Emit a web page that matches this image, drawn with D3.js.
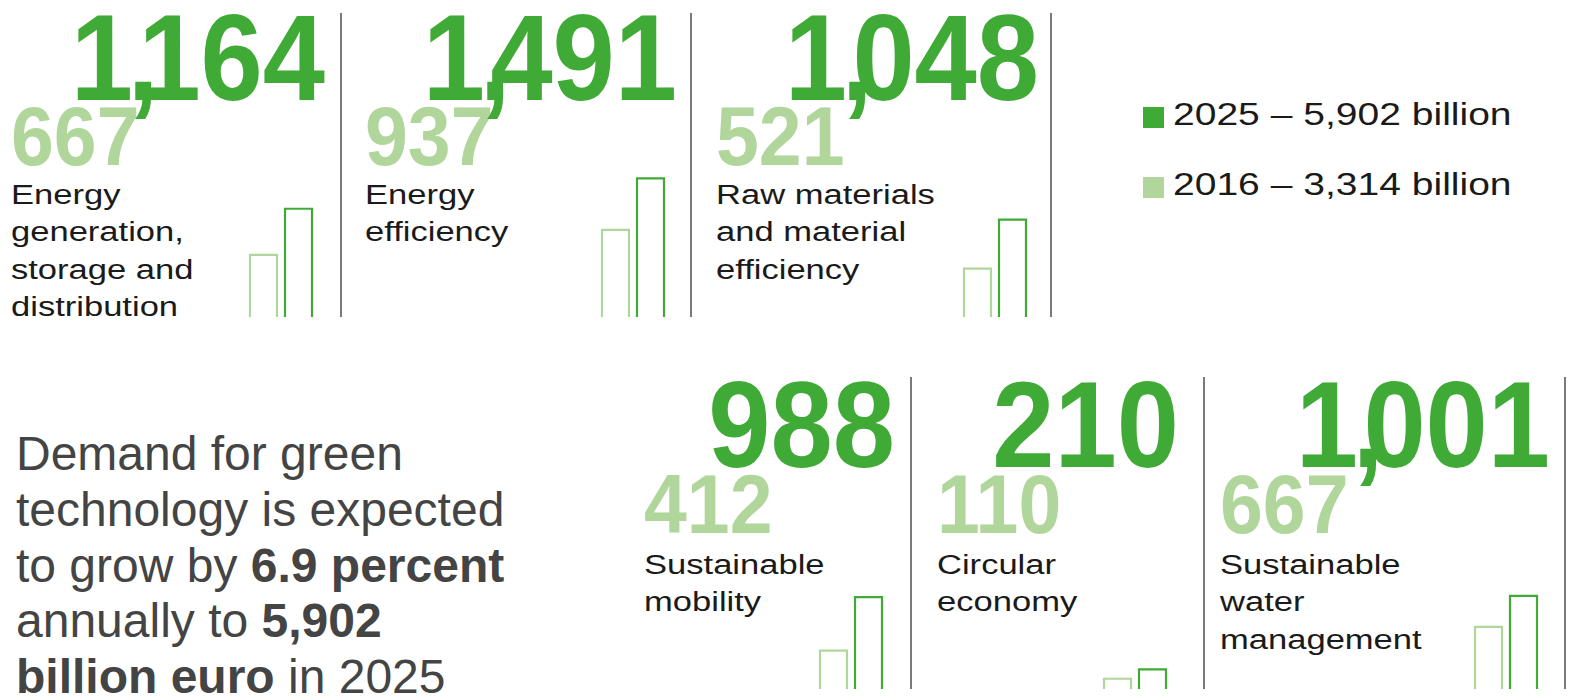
<!DOCTYPE html>
<html>
<head>
<meta charset="utf-8">
<script src="https://cdn.jsdelivr.net/npm/d3@7"></script>
<style>
    body { margin: 0; background: #fff; }
    svg { display: block; }
</style>
</head>
<body>
<div id="chart"></div>
<script>
// values in billion euro
const categories = [
    ['Energy', 'generation,', 'storage and', 'distribution'],
    ['Energy', 'efficiency'],
    ['Raw materials', 'and material', 'efficiency'],
    ['Sustainable', 'mobility'],
    ['Circular', 'economy'],
    ['Sustainable', 'water', 'management']
];
const values2016 = [667, 937, 521, 412, 110, 667];
const values2025 = [1164, 1491, 1048, 988, 210, 1001];
const legendLabels = ['2025 – 5,902 billion', '2016 – 3,314 billion'];
const introLines = [
    [{ t: 'Demand for green' }],
    [{ t: 'technology is expected' }],
    [{ t: 'to grow by ' }, { t: '6.9 percent', b: true }],
    [{ t: 'annually to ' }, { t: '5,902', b: true }],
    [{ t: 'billion euro', b: true }, { t: ' in 2025' }]
];

// panel boxes (row, label x, right edge of bars, divider x)
const panels = [
    { row: 0, lx: 13, bx: 313, dx: 341 },
    { row: 0, lx: 367, bx: 665, dx: 691 },
    { row: 0, lx: 718, bx: 1027, dx: 1051 },
    { row: 1, lx: 646, bx: 883, dx: 911 },
    { row: 1, lx: 939, bx: 1167, dx: 1204 },
    { row: 1, lx: 1222, bx: 1538, dx: 1565 }
];
const rows = [
    { top: 13, big: 100, small: 165, label: 204, base: 317 },
    { top: 377, big: 467, small: 533, label: 574, base: 689 }
];

const width = 1574, height = 700;
const dark = '#40aa37', light = '#b1d69c';
const NUM_FONT = "'Liberation Sans', Arial, Helvetica, sans-serif";
const TXT_FONT = "'Liberation Sans', Arial, Helvetica, sans-serif";
const stretch = 1.28;

const svg = d3.select('#chart').append('svg')
    .attr('width', width)
    .attr('height', height);

// find how wide a digit is in the number font, so the numbers keep the reference proportions
const probe = svg.append('text')
    .attr('font-family', NUM_FONT).attr('font-weight', 700).attr('font-size', 100)
    .text('0000000000');
const digitEm = probe.node().getComputedTextLength() / 1000;
probe.remove();
const numSX = 0.51 / digitEm;

const y = d3.scaleLinear().domain([0, 1000]).range([0, 93]);
const fmt = d3.format(',');

function stretchedText(g, x, yy, sx) {
    return g.append('text').attr('transform', `translate(${x},${yy}) scale(${sx},1)`);
}

function numberText(g, x, yy, value, size, color, anchor) {
    const t = stretchedText(g, x, yy, numSX)
        .attr('font-family', NUM_FONT)
        .attr('font-weight', 700)
        .attr('font-size', size)
        .attr('fill', color)
        .attr('text-anchor', anchor);
    const parts = fmt(value).split(',');
    parts.forEach((p, i) => {
        if (i > 0) t.append('tspan').attr('dx', '-0.05em').text(',');
        t.append('tspan').attr('dx', i > 0 ? '-0.18em' : null).text(p);
    });
    return t;
}

const barPath = (x0, w, base, h) => `M${x0},${base}V${base - h}H${x0 + w}V${base}`;

panels.forEach((p, i) => {
    const r = rows[p.row];
    const g = svg.append('g');

    // divider
    g.append('line')
        .attr('x1', p.dx).attr('x2', p.dx)
        .attr('y1', r.top).attr('y2', r.base)
        .attr('stroke', '#7a7a7a')
        .attr('stroke-width', 2);

    // bars (outlined, open at bottom)
    g.append('path')
        .attr('d', barPath(p.bx - 63, 27, r.base, y(values2016[i])))
        .attr('fill', 'none').attr('stroke', light).attr('stroke-width', 2.2);
    g.append('path')
        .attr('d', barPath(p.bx - 28, 27, r.base, y(values2025[i])))
        .attr('fill', 'none').attr('stroke', dark).attr('stroke-width', 2.2);

    // small 2016 number then the big 2025 number on top
    numberText(g, p.lx - 2, r.small, values2016[i], 84, light, 'start');
    numberText(g, p.bx + 12, r.big, values2025[i], 122, dark, 'end');

    // label
    const lab = stretchedText(g, p.lx - 2, r.label, stretch)
        .attr('font-family', TXT_FONT)
        .attr('font-size', 27)
        .attr('fill', '#1a1a1a');
    categories[i].forEach((line, k) => {
        lab.append('tspan').attr('x', 0).attr('y', k * 37.5).text(line);
    });
});

// legend
const legend = svg.append('g').attr('transform', 'translate(1143,107)');
legendLabels.forEach((label, i) => {
    legend.append('rect')
        .attr('x', 0).attr('y', i * 70)
        .attr('width', 21).attr('height', 21)
        .attr('fill', i === 0 ? dark : light);
    stretchedText(legend, 30, i * 70 + 18, 1.22)
        .attr('font-family', TXT_FONT)
        .attr('font-size', 32)
        .attr('fill', '#1a1a1a')
        .text(label);
});

// intro text
const intro = svg.append('text')
    .attr('font-family', TXT_FONT)
    .attr('font-size', 48)
    .attr('fill', '#444');
introLines.forEach((line, k) => {
    line.forEach((seg, j) => {
        const ts = intro.append('tspan').text(seg.t)
            .attr('font-weight', seg.b ? 700 : 400);
        if (j === 0) ts.attr('x', 16).attr('y', 470 + k * 55.8);
    });
});
</script>
</body>
</html>
